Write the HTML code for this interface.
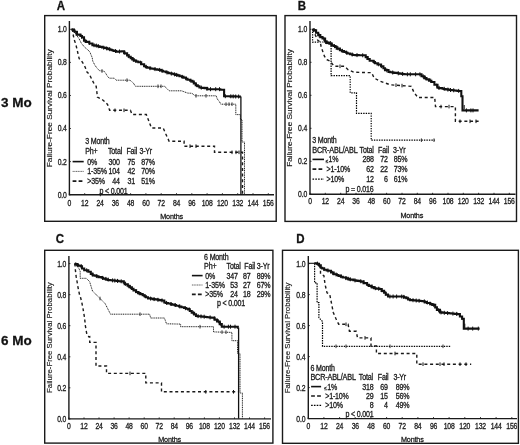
<!DOCTYPE html><html><head><meta charset="utf-8"><style>html,body{margin:0;padding:0;background:#fff;width:520px;height:445px;overflow:hidden}svg{display:block;filter:blur(0.35px)}</style></head><body><svg width="520" height="445" viewBox="0 0 520 445">
<style>
.bd{fill:none;stroke:#1a1a1a;stroke-width:1.4}
.ax{stroke:#1a1a1a;stroke-width:1.4}
.tk{stroke:#1a1a1a;stroke-width:0.9}
.s{fill:none;stroke:#111;stroke-width:2.1;stroke-linejoin:miter}
.d{fill:none;stroke:#1a1a1a;stroke-width:1.4;stroke-dasharray:3 2.7}
.o{fill:none;stroke:#000;stroke-width:1.2;stroke-dasharray:1.4 1.1}
.o2{fill:none;stroke:#222;stroke-width:1;stroke-dasharray:1.1 0.7}
.cm{stroke:#111;stroke-width:1}
.cmt{stroke:#222;stroke-width:0.9}
.base{stroke:#111;stroke-width:1.1}
.drop{stroke:#111;stroke-width:1.3}
text{font-family:"Liberation Sans",sans-serif;stroke:#1a1a1a;stroke-width:0.3px}
.ls{stroke:#111;stroke-width:1.6}.ld{stroke:#1a1a1a;stroke-width:1.7;stroke-dasharray:3.8 2.2}.lo2{stroke:#555;stroke-width:0.9;stroke-dasharray:1.2 0.5}.lo{stroke:#000;stroke-width:1.4;stroke-dasharray:1.6 1.2}.ul{stroke:#1a1a1a;stroke-width:0.6}</style>
<rect x="0" y="0" width="520" height="445" fill="#fff"/>
<text transform="translate(1.00,107.13) scale(1.000,1)" text-anchor="start" font-size="13.5" font-weight="bold" fill="#111">3 Mo</text>
<text transform="translate(1.00,345.33) scale(1.000,1)" text-anchor="start" font-size="13.5" font-weight="bold" fill="#111">6 Mo</text>
<rect class="bd" x="44.7" y="15.6" width="231.5" height="205.70000000000002"/>
<text transform="translate(56.80,10.08) scale(0.900,1)" text-anchor="start" font-size="12.8" font-weight="bold" fill="#111">A</text>
<line class="ax" x1="69.4" y1="21.0" x2="69.4" y2="195.2"/>
<line class="ax" x1="68.9" y1="194.7" x2="274.0" y2="194.7"/>
<line class="tk" x1="69.4" y1="194.7" x2="70.9" y2="194.7"/>
<text transform="translate(66.67,197.64) scale(0.832,1)" text-anchor="end" font-size="8.2" font-weight="normal" fill="#1a1a1a" letter-spacing="-0.2">0.0</text>
<line class="tk" x1="69.4" y1="161.6" x2="70.9" y2="161.6"/>
<text transform="translate(66.67,164.56) scale(0.832,1)" text-anchor="end" font-size="8.2" font-weight="normal" fill="#1a1a1a" letter-spacing="-0.2">0.2</text>
<line class="tk" x1="69.4" y1="128.5" x2="70.9" y2="128.5"/>
<text transform="translate(66.67,131.48) scale(0.832,1)" text-anchor="end" font-size="8.2" font-weight="normal" fill="#1a1a1a" letter-spacing="-0.2">0.4</text>
<line class="tk" x1="69.4" y1="95.5" x2="70.9" y2="95.5"/>
<text transform="translate(66.67,98.40) scale(0.832,1)" text-anchor="end" font-size="8.2" font-weight="normal" fill="#1a1a1a" letter-spacing="-0.2">0.6</text>
<line class="tk" x1="69.4" y1="62.4" x2="70.9" y2="62.4"/>
<text transform="translate(66.67,65.32) scale(0.832,1)" text-anchor="end" font-size="8.2" font-weight="normal" fill="#1a1a1a" letter-spacing="-0.2">0.8</text>
<line class="tk" x1="69.4" y1="29.3" x2="70.9" y2="29.3"/>
<text transform="translate(66.67,32.24) scale(0.832,1)" text-anchor="end" font-size="8.2" font-weight="normal" fill="#1a1a1a" letter-spacing="-0.2">1.0</text>
<line class="tk" x1="69.4" y1="194.7" x2="69.4" y2="193.2"/>
<text transform="translate(69.40,205.54) scale(0.832,1)" text-anchor="middle" font-size="8.2" font-weight="normal" fill="#1a1a1a" letter-spacing="-0.2">0</text>
<line class="tk" x1="84.7" y1="194.7" x2="84.7" y2="193.2"/>
<text transform="translate(84.70,205.54) scale(0.832,1)" text-anchor="middle" font-size="8.2" font-weight="normal" fill="#1a1a1a" letter-spacing="-0.2">12</text>
<line class="tk" x1="100.0" y1="194.7" x2="100.0" y2="193.2"/>
<text transform="translate(100.00,205.54) scale(0.832,1)" text-anchor="middle" font-size="8.2" font-weight="normal" fill="#1a1a1a" letter-spacing="-0.2">24</text>
<line class="tk" x1="115.3" y1="194.7" x2="115.3" y2="193.2"/>
<text transform="translate(115.30,205.54) scale(0.832,1)" text-anchor="middle" font-size="8.2" font-weight="normal" fill="#1a1a1a" letter-spacing="-0.2">36</text>
<line class="tk" x1="130.6" y1="194.7" x2="130.6" y2="193.2"/>
<text transform="translate(130.60,205.54) scale(0.832,1)" text-anchor="middle" font-size="8.2" font-weight="normal" fill="#1a1a1a" letter-spacing="-0.2">48</text>
<line class="tk" x1="145.9" y1="194.7" x2="145.9" y2="193.2"/>
<text transform="translate(145.90,205.54) scale(0.832,1)" text-anchor="middle" font-size="8.2" font-weight="normal" fill="#1a1a1a" letter-spacing="-0.2">60</text>
<line class="tk" x1="161.2" y1="194.7" x2="161.2" y2="193.2"/>
<text transform="translate(161.20,205.54) scale(0.832,1)" text-anchor="middle" font-size="8.2" font-weight="normal" fill="#1a1a1a" letter-spacing="-0.2">72</text>
<line class="tk" x1="176.5" y1="194.7" x2="176.5" y2="193.2"/>
<text transform="translate(176.50,205.54) scale(0.832,1)" text-anchor="middle" font-size="8.2" font-weight="normal" fill="#1a1a1a" letter-spacing="-0.2">84</text>
<line class="tk" x1="191.8" y1="194.7" x2="191.8" y2="193.2"/>
<text transform="translate(191.80,205.54) scale(0.832,1)" text-anchor="middle" font-size="8.2" font-weight="normal" fill="#1a1a1a" letter-spacing="-0.2">96</text>
<line class="tk" x1="207.1" y1="194.7" x2="207.1" y2="193.2"/>
<text transform="translate(207.10,205.54) scale(0.832,1)" text-anchor="middle" font-size="8.2" font-weight="normal" fill="#1a1a1a" letter-spacing="-0.2">108</text>
<line class="tk" x1="222.4" y1="194.7" x2="222.4" y2="193.2"/>
<text transform="translate(222.40,205.54) scale(0.832,1)" text-anchor="middle" font-size="8.2" font-weight="normal" fill="#1a1a1a" letter-spacing="-0.2">120</text>
<line class="tk" x1="237.7" y1="194.7" x2="237.7" y2="193.2"/>
<text transform="translate(237.70,205.54) scale(0.832,1)" text-anchor="middle" font-size="8.2" font-weight="normal" fill="#1a1a1a" letter-spacing="-0.2">132</text>
<line class="tk" x1="253.0" y1="194.7" x2="253.0" y2="193.2"/>
<text transform="translate(253.00,205.54) scale(0.832,1)" text-anchor="middle" font-size="8.2" font-weight="normal" fill="#1a1a1a" letter-spacing="-0.2">144</text>
<line class="tk" x1="268.3" y1="194.7" x2="268.3" y2="193.2"/>
<text transform="translate(268.30,205.54) scale(0.832,1)" text-anchor="middle" font-size="8.2" font-weight="normal" fill="#1a1a1a" letter-spacing="-0.2">156</text>
<text transform="translate(171.60,218.60) scale(0.894,1)" text-anchor="middle" font-size="8.1" font-weight="normal" fill="#1a1a1a" letter-spacing="-0.2">Months</text>
<text transform="translate(49.50,108.30) rotate(-90) scale(1,0.88) translate(0,2.99)" text-anchor="middle" font-size="8.3" fill="#1a1a1a" style="stroke-width:0.18px">Failure-Free Survival Probability</text>
<rect class="bd" x="285.0" y="15.6" width="231.5" height="205.8"/>
<text transform="translate(297.80,9.88) scale(0.900,1)" text-anchor="start" font-size="12.8" font-weight="bold" fill="#111">B</text>
<line class="ax" x1="310.0" y1="21.0" x2="310.0" y2="194.8"/>
<line class="ax" x1="309.5" y1="194.3" x2="515.5" y2="194.3"/>
<line class="tk" x1="310.0" y1="194.3" x2="311.5" y2="194.3"/>
<text transform="translate(307.07,197.24) scale(0.832,1)" text-anchor="end" font-size="8.2" font-weight="normal" fill="#1a1a1a" letter-spacing="-0.2">0.0</text>
<line class="tk" x1="310.0" y1="161.3" x2="311.5" y2="161.3"/>
<text transform="translate(307.07,164.24) scale(0.832,1)" text-anchor="end" font-size="8.2" font-weight="normal" fill="#1a1a1a" letter-spacing="-0.2">0.2</text>
<line class="tk" x1="310.0" y1="128.3" x2="311.5" y2="128.3"/>
<text transform="translate(307.07,131.24) scale(0.832,1)" text-anchor="end" font-size="8.2" font-weight="normal" fill="#1a1a1a" letter-spacing="-0.2">0.4</text>
<line class="tk" x1="310.0" y1="95.3" x2="311.5" y2="95.3"/>
<text transform="translate(307.07,98.24) scale(0.832,1)" text-anchor="end" font-size="8.2" font-weight="normal" fill="#1a1a1a" letter-spacing="-0.2">0.6</text>
<line class="tk" x1="310.0" y1="62.3" x2="311.5" y2="62.3"/>
<text transform="translate(307.07,65.24) scale(0.832,1)" text-anchor="end" font-size="8.2" font-weight="normal" fill="#1a1a1a" letter-spacing="-0.2">0.8</text>
<line class="tk" x1="310.0" y1="29.3" x2="311.5" y2="29.3"/>
<text transform="translate(307.07,32.24) scale(0.832,1)" text-anchor="end" font-size="8.2" font-weight="normal" fill="#1a1a1a" letter-spacing="-0.2">1.0</text>
<line class="tk" x1="310.0" y1="194.3" x2="310.0" y2="192.8"/>
<text transform="translate(310.00,204.44) scale(0.832,1)" text-anchor="middle" font-size="8.2" font-weight="normal" fill="#1a1a1a" letter-spacing="-0.2">0</text>
<line class="tk" x1="325.3" y1="194.3" x2="325.3" y2="192.8"/>
<text transform="translate(325.33,204.44) scale(0.832,1)" text-anchor="middle" font-size="8.2" font-weight="normal" fill="#1a1a1a" letter-spacing="-0.2">12</text>
<line class="tk" x1="340.7" y1="194.3" x2="340.7" y2="192.8"/>
<text transform="translate(340.66,204.44) scale(0.832,1)" text-anchor="middle" font-size="8.2" font-weight="normal" fill="#1a1a1a" letter-spacing="-0.2">24</text>
<line class="tk" x1="356.0" y1="194.3" x2="356.0" y2="192.8"/>
<text transform="translate(355.99,204.44) scale(0.832,1)" text-anchor="middle" font-size="8.2" font-weight="normal" fill="#1a1a1a" letter-spacing="-0.2">36</text>
<line class="tk" x1="371.3" y1="194.3" x2="371.3" y2="192.8"/>
<text transform="translate(371.32,204.44) scale(0.832,1)" text-anchor="middle" font-size="8.2" font-weight="normal" fill="#1a1a1a" letter-spacing="-0.2">48</text>
<line class="tk" x1="386.6" y1="194.3" x2="386.6" y2="192.8"/>
<text transform="translate(386.65,204.44) scale(0.832,1)" text-anchor="middle" font-size="8.2" font-weight="normal" fill="#1a1a1a" letter-spacing="-0.2">60</text>
<line class="tk" x1="402.0" y1="194.3" x2="402.0" y2="192.8"/>
<text transform="translate(401.98,204.44) scale(0.832,1)" text-anchor="middle" font-size="8.2" font-weight="normal" fill="#1a1a1a" letter-spacing="-0.2">72</text>
<line class="tk" x1="417.3" y1="194.3" x2="417.3" y2="192.8"/>
<text transform="translate(417.31,204.44) scale(0.832,1)" text-anchor="middle" font-size="8.2" font-weight="normal" fill="#1a1a1a" letter-spacing="-0.2">84</text>
<line class="tk" x1="432.6" y1="194.3" x2="432.6" y2="192.8"/>
<text transform="translate(432.64,204.44) scale(0.832,1)" text-anchor="middle" font-size="8.2" font-weight="normal" fill="#1a1a1a" letter-spacing="-0.2">96</text>
<line class="tk" x1="448.0" y1="194.3" x2="448.0" y2="192.8"/>
<text transform="translate(447.97,204.44) scale(0.832,1)" text-anchor="middle" font-size="8.2" font-weight="normal" fill="#1a1a1a" letter-spacing="-0.2">108</text>
<line class="tk" x1="463.3" y1="194.3" x2="463.3" y2="192.8"/>
<text transform="translate(463.30,204.44) scale(0.832,1)" text-anchor="middle" font-size="8.2" font-weight="normal" fill="#1a1a1a" letter-spacing="-0.2">120</text>
<line class="tk" x1="478.6" y1="194.3" x2="478.6" y2="192.8"/>
<text transform="translate(478.63,204.44) scale(0.832,1)" text-anchor="middle" font-size="8.2" font-weight="normal" fill="#1a1a1a" letter-spacing="-0.2">132</text>
<line class="tk" x1="494.0" y1="194.3" x2="494.0" y2="192.8"/>
<text transform="translate(493.96,204.44) scale(0.832,1)" text-anchor="middle" font-size="8.2" font-weight="normal" fill="#1a1a1a" letter-spacing="-0.2">144</text>
<line class="tk" x1="509.3" y1="194.3" x2="509.3" y2="192.8"/>
<text transform="translate(509.29,204.44) scale(0.832,1)" text-anchor="middle" font-size="8.2" font-weight="normal" fill="#1a1a1a" letter-spacing="-0.2">156</text>
<text transform="translate(411.80,218.10) scale(0.894,1)" text-anchor="middle" font-size="8.1" font-weight="normal" fill="#1a1a1a" letter-spacing="-0.2">Months</text>
<text transform="translate(289.50,107.90) rotate(-90) scale(1,0.88) translate(0,2.99)" text-anchor="middle" font-size="8.3" fill="#1a1a1a" style="stroke-width:0.18px">Failure-Free Survival Probability</text>
<rect class="bd" x="44.7" y="250.3" width="228.2" height="192.8"/>
<text transform="translate(55.80,243.38) scale(0.900,1)" text-anchor="start" font-size="12.8" font-weight="bold" fill="#111">C</text>
<line class="ax" x1="68.9" y1="256.0" x2="68.9" y2="419.4"/>
<line class="ax" x1="68.4" y1="418.9" x2="271.0" y2="418.9"/>
<line class="tk" x1="68.9" y1="418.9" x2="70.4" y2="418.9"/>
<text transform="translate(66.17,421.84) scale(0.832,1)" text-anchor="end" font-size="8.2" font-weight="normal" fill="#1a1a1a" letter-spacing="-0.2">0.0</text>
<line class="tk" x1="68.9" y1="387.8" x2="70.4" y2="387.8"/>
<text transform="translate(66.17,390.78) scale(0.832,1)" text-anchor="end" font-size="8.2" font-weight="normal" fill="#1a1a1a" letter-spacing="-0.2">0.2</text>
<line class="tk" x1="68.9" y1="356.8" x2="70.4" y2="356.8"/>
<text transform="translate(66.17,359.72) scale(0.832,1)" text-anchor="end" font-size="8.2" font-weight="normal" fill="#1a1a1a" letter-spacing="-0.2">0.4</text>
<line class="tk" x1="68.9" y1="325.7" x2="70.4" y2="325.7"/>
<text transform="translate(66.17,328.66) scale(0.832,1)" text-anchor="end" font-size="8.2" font-weight="normal" fill="#1a1a1a" letter-spacing="-0.2">0.6</text>
<line class="tk" x1="68.9" y1="294.7" x2="70.4" y2="294.7"/>
<text transform="translate(66.17,297.60) scale(0.832,1)" text-anchor="end" font-size="8.2" font-weight="normal" fill="#1a1a1a" letter-spacing="-0.2">0.8</text>
<line class="tk" x1="68.9" y1="263.6" x2="70.4" y2="263.6"/>
<text transform="translate(66.17,266.54) scale(0.832,1)" text-anchor="end" font-size="8.2" font-weight="normal" fill="#1a1a1a" letter-spacing="-0.2">1.0</text>
<line class="tk" x1="68.9" y1="418.9" x2="68.9" y2="417.4"/>
<text transform="translate(68.90,428.84) scale(0.832,1)" text-anchor="middle" font-size="8.2" font-weight="normal" fill="#1a1a1a" letter-spacing="-0.2">0</text>
<line class="tk" x1="84.0" y1="418.9" x2="84.0" y2="417.4"/>
<text transform="translate(83.95,428.84) scale(0.832,1)" text-anchor="middle" font-size="8.2" font-weight="normal" fill="#1a1a1a" letter-spacing="-0.2">12</text>
<line class="tk" x1="99.0" y1="418.9" x2="99.0" y2="417.4"/>
<text transform="translate(99.00,428.84) scale(0.832,1)" text-anchor="middle" font-size="8.2" font-weight="normal" fill="#1a1a1a" letter-spacing="-0.2">24</text>
<line class="tk" x1="114.1" y1="418.9" x2="114.1" y2="417.4"/>
<text transform="translate(114.05,428.84) scale(0.832,1)" text-anchor="middle" font-size="8.2" font-weight="normal" fill="#1a1a1a" letter-spacing="-0.2">36</text>
<line class="tk" x1="129.1" y1="418.9" x2="129.1" y2="417.4"/>
<text transform="translate(129.10,428.84) scale(0.832,1)" text-anchor="middle" font-size="8.2" font-weight="normal" fill="#1a1a1a" letter-spacing="-0.2">48</text>
<line class="tk" x1="144.2" y1="418.9" x2="144.2" y2="417.4"/>
<text transform="translate(144.15,428.84) scale(0.832,1)" text-anchor="middle" font-size="8.2" font-weight="normal" fill="#1a1a1a" letter-spacing="-0.2">60</text>
<line class="tk" x1="159.2" y1="418.9" x2="159.2" y2="417.4"/>
<text transform="translate(159.20,428.84) scale(0.832,1)" text-anchor="middle" font-size="8.2" font-weight="normal" fill="#1a1a1a" letter-spacing="-0.2">72</text>
<line class="tk" x1="174.2" y1="418.9" x2="174.2" y2="417.4"/>
<text transform="translate(174.25,428.84) scale(0.832,1)" text-anchor="middle" font-size="8.2" font-weight="normal" fill="#1a1a1a" letter-spacing="-0.2">84</text>
<line class="tk" x1="189.3" y1="418.9" x2="189.3" y2="417.4"/>
<text transform="translate(189.30,428.84) scale(0.832,1)" text-anchor="middle" font-size="8.2" font-weight="normal" fill="#1a1a1a" letter-spacing="-0.2">96</text>
<line class="tk" x1="204.4" y1="418.9" x2="204.4" y2="417.4"/>
<text transform="translate(204.35,428.84) scale(0.832,1)" text-anchor="middle" font-size="8.2" font-weight="normal" fill="#1a1a1a" letter-spacing="-0.2">108</text>
<line class="tk" x1="219.4" y1="418.9" x2="219.4" y2="417.4"/>
<text transform="translate(219.40,428.84) scale(0.832,1)" text-anchor="middle" font-size="8.2" font-weight="normal" fill="#1a1a1a" letter-spacing="-0.2">120</text>
<line class="tk" x1="234.5" y1="418.9" x2="234.5" y2="417.4"/>
<text transform="translate(234.45,428.84) scale(0.832,1)" text-anchor="middle" font-size="8.2" font-weight="normal" fill="#1a1a1a" letter-spacing="-0.2">132</text>
<line class="tk" x1="249.5" y1="418.9" x2="249.5" y2="417.4"/>
<text transform="translate(249.50,428.84) scale(0.832,1)" text-anchor="middle" font-size="8.2" font-weight="normal" fill="#1a1a1a" letter-spacing="-0.2">144</text>
<line class="tk" x1="264.6" y1="418.9" x2="264.6" y2="417.4"/>
<text transform="translate(264.55,428.84) scale(0.832,1)" text-anchor="middle" font-size="8.2" font-weight="normal" fill="#1a1a1a" letter-spacing="-0.2">156</text>
<text transform="translate(169.60,441.80) scale(0.894,1)" text-anchor="middle" font-size="8.1" font-weight="normal" fill="#1a1a1a" letter-spacing="-0.2">Months</text>
<text transform="translate(49.60,337.60) rotate(-90) scale(1,0.88) translate(0,2.81)" text-anchor="middle" font-size="7.8" fill="#1a1a1a" style="stroke-width:0.18px">Failure-Free Survival Probability</text>
<rect class="bd" x="282.5" y="250.3" width="235.89999999999998" height="193.0"/>
<text transform="translate(296.30,243.08) scale(0.900,1)" text-anchor="start" font-size="12.8" font-weight="bold" fill="#111">D</text>
<line class="ax" x1="308.3" y1="256.0" x2="308.3" y2="419.1"/>
<line class="ax" x1="307.8" y1="418.6" x2="517.0" y2="418.6"/>
<line class="tk" x1="308.3" y1="418.6" x2="309.8" y2="418.6"/>
<text transform="translate(305.27,421.54) scale(0.832,1)" text-anchor="end" font-size="8.2" font-weight="normal" fill="#1a1a1a" letter-spacing="-0.2">0.0</text>
<line class="tk" x1="308.3" y1="387.6" x2="309.8" y2="387.6"/>
<text transform="translate(305.27,390.54) scale(0.832,1)" text-anchor="end" font-size="8.2" font-weight="normal" fill="#1a1a1a" letter-spacing="-0.2">0.2</text>
<line class="tk" x1="308.3" y1="356.6" x2="309.8" y2="356.6"/>
<text transform="translate(305.27,359.54) scale(0.832,1)" text-anchor="end" font-size="8.2" font-weight="normal" fill="#1a1a1a" letter-spacing="-0.2">0.4</text>
<line class="tk" x1="308.3" y1="325.6" x2="309.8" y2="325.6"/>
<text transform="translate(305.27,328.54) scale(0.832,1)" text-anchor="end" font-size="8.2" font-weight="normal" fill="#1a1a1a" letter-spacing="-0.2">0.6</text>
<line class="tk" x1="308.3" y1="294.6" x2="309.8" y2="294.6"/>
<text transform="translate(305.27,297.54) scale(0.832,1)" text-anchor="end" font-size="8.2" font-weight="normal" fill="#1a1a1a" letter-spacing="-0.2">0.8</text>
<line class="tk" x1="308.3" y1="263.6" x2="309.8" y2="263.6"/>
<text transform="translate(305.27,266.54) scale(0.832,1)" text-anchor="end" font-size="8.2" font-weight="normal" fill="#1a1a1a" letter-spacing="-0.2">1.0</text>
<line class="tk" x1="308.3" y1="418.6" x2="308.3" y2="417.1"/>
<text transform="translate(308.30,429.14) scale(0.832,1)" text-anchor="middle" font-size="8.2" font-weight="normal" fill="#1a1a1a" letter-spacing="-0.2">0</text>
<line class="tk" x1="323.9" y1="418.6" x2="323.9" y2="417.1"/>
<text transform="translate(323.95,429.14) scale(0.832,1)" text-anchor="middle" font-size="8.2" font-weight="normal" fill="#1a1a1a" letter-spacing="-0.2">12</text>
<line class="tk" x1="339.6" y1="418.6" x2="339.6" y2="417.1"/>
<text transform="translate(339.60,429.14) scale(0.832,1)" text-anchor="middle" font-size="8.2" font-weight="normal" fill="#1a1a1a" letter-spacing="-0.2">24</text>
<line class="tk" x1="355.2" y1="418.6" x2="355.2" y2="417.1"/>
<text transform="translate(355.25,429.14) scale(0.832,1)" text-anchor="middle" font-size="8.2" font-weight="normal" fill="#1a1a1a" letter-spacing="-0.2">36</text>
<line class="tk" x1="370.9" y1="418.6" x2="370.9" y2="417.1"/>
<text transform="translate(370.90,429.14) scale(0.832,1)" text-anchor="middle" font-size="8.2" font-weight="normal" fill="#1a1a1a" letter-spacing="-0.2">48</text>
<line class="tk" x1="386.6" y1="418.6" x2="386.6" y2="417.1"/>
<text transform="translate(386.55,429.14) scale(0.832,1)" text-anchor="middle" font-size="8.2" font-weight="normal" fill="#1a1a1a" letter-spacing="-0.2">60</text>
<line class="tk" x1="402.2" y1="418.6" x2="402.2" y2="417.1"/>
<text transform="translate(402.20,429.14) scale(0.832,1)" text-anchor="middle" font-size="8.2" font-weight="normal" fill="#1a1a1a" letter-spacing="-0.2">72</text>
<line class="tk" x1="417.9" y1="418.6" x2="417.9" y2="417.1"/>
<text transform="translate(417.85,429.14) scale(0.832,1)" text-anchor="middle" font-size="8.2" font-weight="normal" fill="#1a1a1a" letter-spacing="-0.2">84</text>
<line class="tk" x1="433.5" y1="418.6" x2="433.5" y2="417.1"/>
<text transform="translate(433.50,429.14) scale(0.832,1)" text-anchor="middle" font-size="8.2" font-weight="normal" fill="#1a1a1a" letter-spacing="-0.2">96</text>
<line class="tk" x1="449.1" y1="418.6" x2="449.1" y2="417.1"/>
<text transform="translate(449.15,429.14) scale(0.832,1)" text-anchor="middle" font-size="8.2" font-weight="normal" fill="#1a1a1a" letter-spacing="-0.2">108</text>
<line class="tk" x1="464.8" y1="418.6" x2="464.8" y2="417.1"/>
<text transform="translate(464.80,429.14) scale(0.832,1)" text-anchor="middle" font-size="8.2" font-weight="normal" fill="#1a1a1a" letter-spacing="-0.2">120</text>
<line class="tk" x1="480.5" y1="418.6" x2="480.5" y2="417.1"/>
<text transform="translate(480.45,429.14) scale(0.832,1)" text-anchor="middle" font-size="8.2" font-weight="normal" fill="#1a1a1a" letter-spacing="-0.2">132</text>
<line class="tk" x1="496.1" y1="418.6" x2="496.1" y2="417.1"/>
<text transform="translate(496.10,429.14) scale(0.832,1)" text-anchor="middle" font-size="8.2" font-weight="normal" fill="#1a1a1a" letter-spacing="-0.2">144</text>
<line class="tk" x1="511.8" y1="418.6" x2="511.8" y2="417.1"/>
<text transform="translate(511.75,429.14) scale(0.832,1)" text-anchor="middle" font-size="8.2" font-weight="normal" fill="#1a1a1a" letter-spacing="-0.2">156</text>
<text transform="translate(412.30,441.60) scale(0.894,1)" text-anchor="middle" font-size="8.1" font-weight="normal" fill="#1a1a1a" letter-spacing="-0.2">Months</text>
<text transform="translate(287.60,338.00) rotate(-90) scale(1,0.88) translate(0,2.81)" text-anchor="middle" font-size="7.8" fill="#1a1a1a" style="stroke-width:0.18px">Failure-Free Survival Probability</text>
<polyline class="o2" points="71.5,29.4 72.5,29.5 74.2,31.7 77.0,35.7 79.2,39.0 81.5,43.5 84.9,47.5 87.7,49.7 89.9,52.0 91.0,54.8 92.2,57.6 92.7,61.0 95.0,65.4 97.2,68.3 99.5,70.7 104.1,71.2 105.8,73.5 107.5,76.3 109.2,78.2 114.2,78.2 116.3,80.2 130.0,80.2 133.3,83.0 135.5,86.3 164.6,86.3 169.2,90.8 181.5,90.8 187.7,93.1 192.0,93.3 195.0,95.8 216.2,95.8 217.3,99.0 219.6,101.9 220.8,104.2 235.8,104.2 235.8,114.6 240.4,114.6 240.4,119.6 242.0,119.6 242.0,142.0 244.5,142.0 244.5,194.7"/>
<polyline class="d" points="71.5,29.4 72.5,30.0 73.0,34.0 74.2,39.6 75.9,44.7 77.0,49.2 78.1,54.2 79.2,58.7 81.5,61.0 83.7,64.3 85.4,67.7 86.3,71.2 89.5,74.6 91.7,79.1 94.0,83.6 96.2,86.4 96.8,91.5 97.4,97.1 101.9,99.3 105.2,102.1 107.5,104.4 108.6,107.2 109.6,110.3 130.4,110.3 132.0,114.5 146.3,114.5 148.9,121.2 151.4,128.0 163.2,128.0 165.7,133.8 169.1,141.2 184.1,141.2 184.1,146.2 214.5,146.2 214.5,152.3 242.5,152.3 242.5,194.7"/>
<polyline class="s" points="71.5,29.4 72.3,29.4 72.3,29.5 72.5,29.5 73.8,29.5 73.8,30.6 74.6,30.6 74.6,31.7 75.9,31.7 76.7,31.7 76.7,34.6 79.2,34.6 80.4,34.6 80.4,36.0 82.0,36.0 82.0,37.4 82.6,37.4 84.0,37.4 84.0,40.7 84.9,40.7 86.0,40.7 86.0,41.9 87.7,41.9 89.3,41.9 89.3,43.5 90.5,43.5 92.4,43.5 92.4,45.2 93.8,45.2 94.7,45.2 94.7,45.5 96.0,45.5 96.0,45.8 97.2,45.8 98.0,45.8 98.0,46.3 99.6,46.3 99.6,46.9 100.6,46.9 102.0,46.9 102.0,47.5 104.6,47.5 104.6,48.0 105.1,48.0 106.8,48.0 106.8,48.6 108.5,48.6 108.5,49.2 109.6,49.2 110.4,49.2 110.4,49.8 111.8,49.8 111.8,50.3 112.9,50.3 113.5,50.3 113.5,51.0 116.0,51.0 116.0,51.6 118.0,51.6 119.2,51.6 119.2,51.5 121.5,51.5 121.5,51.3 123.1,51.3 124.1,51.3 124.1,53.3 127.1,53.3 127.1,55.4 127.7,55.4 128.7,55.4 128.7,56.8 130.7,56.8 130.7,58.1 132.2,58.1 132.2,59.4 133.9,59.4 133.9,60.8 135.4,60.8 136.3,60.8 136.3,61.5 138.3,61.5 138.3,62.3 140.0,62.3 141.2,62.3 141.2,64.2 144.1,64.2 144.1,66.2 144.6,66.2 145.8,66.2 145.8,67.0 147.3,67.0 147.3,67.7 150.3,67.7 150.3,68.5 150.8,68.5 152.4,68.5 152.4,68.8 154.6,68.8 154.6,69.2 155.4,69.2 157.1,69.2 157.1,69.6 159.2,69.6 159.2,70.0 160.0,70.0 161.4,70.0 161.4,70.8 162.9,70.8 162.9,71.5 165.8,71.5 165.8,72.3 166.2,72.3 167.8,72.3 167.8,72.8 168.8,72.8 168.8,73.3 171.6,73.3 171.6,73.8 172.3,73.8 173.6,73.8 173.6,74.3 175.4,74.3 175.4,74.9 177.5,74.9 177.5,75.4 178.5,75.4 179.5,75.4 179.5,76.2 182.1,76.2 182.1,76.9 183.6,76.9 183.6,77.7 184.6,77.7 186.0,77.7 186.0,78.7 187.5,78.7 187.5,79.8 190.2,79.8 190.2,80.8 190.8,80.8 192.4,80.8 192.4,81.6 193.0,81.6 193.8,81.6 193.8,83.4 195.7,83.4 195.7,85.2 196.5,85.2 197.8,85.2 197.8,86.3 199.4,86.3 199.4,87.5 200.0,87.5 201.0,87.5 201.0,87.7 202.6,87.7 202.6,87.9 204.6,87.9 204.6,88.1 205.8,88.1 207.2,88.1 207.2,89.2 208.1,89.2 219.6,89.2 220.3,89.2 220.3,89.8 221.9,89.8 224.1,89.8 224.1,96.2 224.8,96.2 225.6,96.2 225.6,96.3 228.8,96.3 228.8,96.3 230.3,96.3 230.3,96.4 233.5,96.4 233.5,96.4 235.4,96.4 235.4,96.5 237.5,96.5 237.5,96.5 239.8,96.5 239.8,96.6 240.9,96.6"/>
<line class="drop" x1="240.9" y1="96.6" x2="240.9" y2="194.7"/>
<polyline class="o" points="312.6,29.2 312.6,42.1 331.1,41.9 331.1,75.6 350.2,75.6 350.2,92.8 356.5,92.8 356.5,113.4 371.2,113.4 371.2,140.2 434.8,140.2"/>
<polyline class="d" points="312.5,29.2 314.0,32.0 316.8,38.5 317.8,40.2 320.2,41.9 321.2,47.0 324.4,56.2 326.9,59.6 330.3,61.2 332.8,64.6 334.5,66.3 344.6,66.3 348.0,69.7 353.9,72.2 371.7,72.7 374.2,78.1 380.4,81.3 390.3,84.8 411.3,86.3 414.0,92.4 417.9,97.5 434.7,97.5 435.5,106.6 455.4,106.6 455.4,121.3 478.6,121.3"/>
<polyline class="s" points="312.5,29.2 313.8,29.2 313.8,30.4 314.8,30.4 316.1,30.4 316.1,32.8 316.8,32.8 318.2,32.8 318.2,35.1 318.8,35.1 320.3,35.1 320.3,37.1 320.8,37.1 322.5,37.1 322.5,38.5 323.5,38.5 325.1,38.5 325.1,41.5 325.6,41.5 326.2,41.5 326.2,42.9 328.3,42.9 329.3,42.9 329.3,43.6 330.3,43.6 331.8,43.6 331.8,45.2 332.3,45.2 333.4,45.2 333.4,46.0 335.5,46.0 335.5,46.9 336.0,46.9 336.7,46.9 336.7,48.6 339.9,48.6 339.9,50.3 341.2,50.3 341.9,50.3 341.9,51.1 344.2,51.1 344.2,52.0 346.2,52.0 346.2,52.8 347.1,52.8 347.6,52.8 347.6,53.5 350.1,53.5 350.1,54.3 352.5,54.3 352.5,55.0 353.9,55.0 355.5,55.0 355.5,55.1 357.4,55.1 357.4,55.1 358.7,55.1 358.7,55.2 361.6,55.2 361.6,55.2 362.8,55.2 362.8,55.3 364.3,55.3 365.7,55.3 365.7,57.1 367.4,57.1 367.4,59.0 369.7,59.0 369.7,60.8 371.7,60.8 373.5,60.8 373.5,62.0 375.0,62.0 375.0,63.3 377.5,63.3 377.5,64.5 379.2,64.5 381.1,64.5 381.1,66.3 383.4,66.3 383.4,68.2 385.0,68.2 385.0,70.1 388.5,70.1 388.5,71.9 389.0,71.9 390.2,71.9 390.2,72.2 392.7,72.2 392.7,72.6 394.3,72.6 394.3,72.9 397.6,72.9 397.6,73.3 399.5,73.3 399.5,73.6 402.2,73.6 402.2,74.0 404.4,74.0 404.4,74.3 405.0,74.3 420.5,74.3 421.5,74.3 421.5,76.2 424.2,76.2 424.2,78.1 425.7,78.1 426.5,78.1 426.5,79.4 429.0,79.4 429.0,80.7 431.4,80.7 431.4,82.0 433.4,82.0 434.4,82.0 434.4,84.8 437.5,84.8 437.5,87.7 438.6,87.7 439.0,87.7 439.0,88.1 441.9,88.1 441.9,88.5 443.5,88.5 443.5,89.0 445.6,89.0 445.6,89.4 448.3,89.4 448.3,89.8 448.9,89.8 449.9,89.8 449.9,90.0 451.8,90.0 451.8,90.3 454.1,90.3 454.1,90.5 456.4,90.5 456.4,90.8 457.7,90.8 457.7,91.0 459.3,91.0 461.3,91.0 461.3,96.2 461.8,96.2 462.5,96.2 462.5,110.4 465.0,110.4 478.6,110.4"/>
<polyline class="o2" points="74.9,263.5 79.1,268.8 80.2,271.5 80.2,278.3 86.2,278.3 87.6,279.6 89.6,281.6 92.5,291.0 98.8,297.3 105.2,303.7 110.5,314.2 149.6,314.2 150.7,318.0 164.4,318.0 166.5,323.8 180.6,324.1 180.6,326.7 213.5,326.7 213.5,331.9 231.9,332.4 231.9,340.7 237.5,340.7 237.5,353.7 240.0,353.7 240.0,393.0 242.4,393.0 242.4,418.6"/>
<polyline class="d" points="74.9,263.5 75.4,270.2 76.1,276.2 77.3,283.0 78.0,287.3 79.5,294.6 80.2,296.1 81.7,301.9 83.1,309.2 84.6,318.0 85.3,325.3 86.8,334.0 89.0,337.0 89.7,336.8 89.7,342.4 96.0,342.4 96.0,366.0 106.5,366.0 106.5,373.4 145.8,373.4 145.8,382.9 161.5,382.9 161.5,391.8 238.6,391.8"/>
<polyline class="s" points="74.9,263.5 75.3,263.5 75.3,264.1 76.1,264.1 77.4,264.1 77.4,265.1 77.8,265.1 78.3,265.1 78.3,265.8 79.5,265.8 80.7,265.8 80.7,266.3 81.5,266.3 82.0,266.3 82.0,268.5 83.5,268.5 84.2,268.5 84.2,270.2 85.6,270.2 87.2,270.2 87.2,270.4 87.6,270.4 88.3,270.4 88.3,271.8 89.6,271.8 90.8,271.8 90.8,273.9 91.6,273.9 92.6,273.9 92.6,275.2 93.6,275.2 94.6,275.2 94.6,275.8 96.7,275.8 96.7,276.4 97.8,276.4 98.5,276.4 98.5,277.1 101.7,277.1 101.7,277.8 103.0,277.8 103.0,278.6 105.5,278.6 105.5,279.3 107.6,279.3 107.6,280.0 109.4,280.0 110.2,280.0 110.2,280.2 112.5,280.2 112.5,280.5 115.2,280.5 115.2,280.7 116.7,280.7 116.7,280.9 118.4,280.9 118.4,281.2 120.7,281.2 120.7,281.4 122.1,281.4 123.8,281.4 123.8,282.8 124.7,282.8 124.7,284.3 127.6,284.3 127.6,285.7 128.5,285.7 129.4,285.7 129.4,287.3 131.9,287.3 131.9,288.9 133.5,288.9 133.5,290.4 136.1,290.4 136.1,292.0 136.9,292.0 138.0,292.0 138.0,293.1 140.3,293.1 140.3,294.1 142.7,294.1 142.7,295.2 144.4,295.2 144.4,296.3 146.0,296.3 146.0,297.3 148.0,297.3 148.0,298.4 149.6,298.4 151.2,298.4 151.2,298.8 152.8,298.8 152.8,299.1 154.5,299.1 154.5,299.4 157.6,299.4 157.6,299.8 159.2,299.8 159.2,300.1 161.5,300.1 161.5,300.5 162.3,300.5 164.3,300.5 164.3,302.5 165.0,302.5 165.8,302.5 165.8,303.0 167.9,303.0 167.9,303.5 170.7,303.5 170.7,304.1 171.8,304.1 171.8,304.6 174.7,304.6 174.7,305.1 175.4,305.1 176.0,305.1 176.0,305.8 179.1,305.8 179.1,306.5 181.4,306.5 181.4,307.2 184.1,307.2 184.1,308.0 186.2,308.0 186.2,308.7 188.1,308.7 188.1,309.4 189.2,309.4 189.8,309.4 189.8,311.0 191.7,311.0 191.7,312.7 194.1,312.7 194.1,314.4 196.0,314.4 196.0,316.0 197.0,316.0 197.6,316.0 197.6,316.2 201.1,316.2 201.1,316.5 202.9,316.5 202.9,316.7 205.5,316.7 205.5,317.0 207.2,317.0 207.2,317.2 209.6,317.2 209.6,317.5 211.6,317.5 211.6,317.7 213.5,317.7 214.6,317.7 214.6,319.6 217.0,319.6 217.0,321.5 218.7,321.5 219.7,321.5 219.7,324.1 221.8,324.1 221.8,326.7 223.0,326.7 236.0,326.7 237.8,326.7 237.8,327.6 238.6,327.6"/>
<line class="drop" x1="238.6" y1="327.6" x2="238.6" y2="418.6"/>
<polyline class="o" points="314.6,263.3 314.6,282.9 317.1,282.9 317.1,302.6 318.9,302.6 318.9,317.7 322.5,321.5 322.5,346.3 450.3,346.3"/>
<polyline class="d" points="314.4,263.3 318.5,264.2 320.5,267.0 320.5,274.0 323.9,275.6 324.6,281.0 325.2,285.0 327.0,292.8 329.7,294.2 333.3,312.5 336.0,318.8 338.7,324.3 348.1,324.3 349.4,331.2 356.2,331.2 357.5,337.9 371.0,337.9 371.0,346.0 376.4,346.0 376.4,353.5 416.8,353.5 416.8,364.2 471.2,364.2"/>
<polyline class="s" points="314.4,263.3 315.8,263.3 317.1,263.3 317.1,263.8 318.5,263.8 319.0,263.8 319.0,265.4 319.5,265.4 320.8,265.4 320.8,267.8 321.2,267.8 322.2,267.8 322.2,268.5 323.2,268.5 324.2,268.5 324.2,269.8 325.2,269.8 326.7,269.8 326.7,270.5 327.9,270.5 328.5,270.5 328.5,270.8 329.9,270.8 331.0,270.8 331.0,272.5 332.0,272.5 333.7,272.5 333.7,274.2 335.0,274.2 336.9,274.2 336.9,275.0 337.8,275.0 338.4,275.0 338.4,275.9 340.9,275.9 340.9,276.7 342.8,276.7 342.8,277.5 346.0,277.5 346.0,278.4 346.7,278.4 348.2,278.4 348.2,279.0 349.6,279.0 349.6,279.6 353.4,279.6 353.4,280.2 353.9,280.2 355.7,280.2 355.7,280.6 357.5,280.6 357.5,280.9 359.7,280.9 359.7,281.2 361.3,281.2 361.3,281.6 362.9,281.6 363.5,281.6 363.5,283.1 367.0,283.1 367.0,284.7 368.3,284.7 368.9,284.7 368.9,285.9 371.5,285.9 371.5,287.1 373.9,287.1 373.9,288.3 375.5,288.3 376.1,288.3 376.1,288.6 379.3,288.6 379.3,289.0 380.6,289.0 381.6,289.0 381.6,290.9 384.1,290.9 384.1,292.8 385.8,292.8 385.8,294.6 388.0,294.6 388.0,296.5 388.9,296.5 402.9,296.5 403.9,296.5 403.9,297.4 406.3,297.4 406.3,298.3 408.1,298.3 408.1,299.2 410.0,299.2 410.0,300.1 411.3,300.1 413.0,300.1 413.0,300.3 415.0,300.3 415.0,300.5 416.9,300.5 416.9,300.6 418.9,300.6 418.9,300.8 420.4,300.8 420.4,301.0 422.4,301.0 422.4,301.2 423.8,301.2 424.7,301.2 424.7,302.1 426.8,302.1 426.8,303.0 430.3,303.0 430.3,304.0 432.2,304.0 432.2,304.9 433.6,304.9 435.2,304.9 435.2,307.4 436.9,307.4 436.9,309.9 440.0,309.9 440.0,312.4 440.5,312.4 442.1,312.4 442.1,312.6 443.2,312.6 443.2,312.8 445.8,312.8 445.8,313.0 449.0,313.0 449.0,313.2 450.7,313.2 450.7,313.5 453.7,313.5 453.7,313.7 455.1,313.7 455.1,313.9 457.0,313.9 457.0,314.1 458.7,314.1 459.9,314.1 459.9,316.5 462.1,316.5 462.1,318.8 462.8,318.8 463.8,318.8 463.8,328.6 465.6,328.6 479.6,328.6"/>
<line class="base" x1="308.3" y1="263.3" x2="314.6" y2="263.3"/>
<line class="cm" x1="74.5" y1="28.8" x2="74.5" y2="32.8"/>
<line class="cm" x1="77.5" y1="31.1" x2="77.5" y2="35.1"/>
<line class="cm" x1="81.6" y1="34.6" x2="81.6" y2="38.6"/>
<line class="cm" x1="85.1" y1="38.8" x2="85.1" y2="42.8"/>
<line class="cm" x1="89.5" y1="40.9" x2="89.5" y2="44.9"/>
<line class="cm" x1="94.0" y1="43.2" x2="94.0" y2="47.2"/>
<line class="cm" x1="96.3" y1="43.6" x2="96.3" y2="47.6"/>
<line class="cm" x1="98.3" y1="44.2" x2="98.3" y2="48.2"/>
<line class="cm" x1="103.7" y1="45.7" x2="103.7" y2="49.7"/>
<line class="cm" x1="106.7" y1="46.4" x2="106.7" y2="50.4"/>
<line class="cm" x1="109.7" y1="47.2" x2="109.7" y2="51.2"/>
<line class="cm" x1="115.6" y1="49.0" x2="115.6" y2="53.0"/>
<line class="cm" x1="119.5" y1="49.5" x2="119.5" y2="53.5"/>
<line class="cm" x1="124.9" y1="50.9" x2="124.9" y2="54.9"/>
<line class="cm" x1="128.8" y1="54.2" x2="128.8" y2="58.2"/>
<line class="cm" x1="133.3" y1="57.4" x2="133.3" y2="61.4"/>
<line class="cm" x1="135.9" y1="59.0" x2="135.9" y2="63.0"/>
<line class="cm" x1="140.5" y1="60.7" x2="140.5" y2="64.7"/>
<line class="cm" x1="146.0" y1="64.7" x2="146.0" y2="68.7"/>
<line class="cm" x1="150.0" y1="66.2" x2="150.0" y2="70.2"/>
<line class="cm" x1="155.0" y1="67.1" x2="155.0" y2="71.1"/>
<line class="cm" x1="159.7" y1="67.9" x2="159.7" y2="71.9"/>
<line class="cm" x1="162.0" y1="68.7" x2="162.0" y2="72.7"/>
<line class="cm" x1="167.0" y1="70.5" x2="167.0" y2="74.5"/>
<line class="cm" x1="171.3" y1="71.6" x2="171.3" y2="75.6"/>
<line class="cm" x1="174.6" y1="72.4" x2="174.6" y2="76.4"/>
<line class="cm" x1="176.7" y1="72.9" x2="176.7" y2="76.9"/>
<line class="cm" x1="182.1" y1="74.8" x2="182.1" y2="78.8"/>
<line class="cm" x1="186.0" y1="76.4" x2="186.0" y2="80.4"/>
<line class="cm" x1="190.9" y1="78.8" x2="190.9" y2="82.8"/>
<line class="cm" x1="196.4" y1="83.1" x2="196.4" y2="87.1"/>
<line class="cm" x1="201.3" y1="85.6" x2="201.3" y2="89.6"/>
<line class="cm" x1="207.0" y1="86.7" x2="207.0" y2="90.7"/>
<line class="cm" x1="210.5" y1="87.2" x2="210.5" y2="91.2"/>
<line class="cm" x1="215.7" y1="87.2" x2="215.7" y2="91.2"/>
<line class="cm" x1="219.5" y1="87.2" x2="219.5" y2="91.2"/>
<line class="cm" x1="225.3" y1="94.2" x2="225.3" y2="98.2"/>
<line class="cm" x1="230.8" y1="94.3" x2="230.8" y2="98.3"/>
<line class="cm" x1="233.2" y1="94.4" x2="233.2" y2="98.4"/>
<line class="cm" x1="235.7" y1="94.5" x2="235.7" y2="98.5"/>
<line class="cm" x1="238.6" y1="94.5" x2="238.6" y2="98.5"/>
<line class="cm" x1="315.5" y1="29.2" x2="315.5" y2="33.2"/>
<line class="cm" x1="319.2" y1="33.5" x2="319.2" y2="37.5"/>
<line class="cm" x1="323.8" y1="36.9" x2="323.8" y2="40.9"/>
<line class="cm" x1="327.0" y1="40.2" x2="327.0" y2="44.2"/>
<line class="cm" x1="331.0" y1="42.1" x2="331.0" y2="46.1"/>
<line class="cm" x1="334.5" y1="44.2" x2="334.5" y2="48.2"/>
<line class="cm" x1="337.9" y1="46.2" x2="337.9" y2="50.2"/>
<line class="cm" x1="342.3" y1="48.8" x2="342.3" y2="52.8"/>
<line class="cm" x1="346.6" y1="50.6" x2="346.6" y2="54.6"/>
<line class="cm" x1="352.2" y1="52.5" x2="352.2" y2="56.5"/>
<line class="cm" x1="357.0" y1="53.1" x2="357.0" y2="57.1"/>
<line class="cm" x1="362.7" y1="53.3" x2="362.7" y2="57.3"/>
<line class="cm" x1="368.1" y1="56.1" x2="368.1" y2="60.1"/>
<line class="cm" x1="374.1" y1="60.0" x2="374.1" y2="64.0"/>
<line class="cm" x1="378.7" y1="62.3" x2="378.7" y2="66.3"/>
<line class="cm" x1="381.4" y1="64.2" x2="381.4" y2="68.2"/>
<line class="cm" x1="386.8" y1="68.3" x2="386.8" y2="72.3"/>
<line class="cm" x1="392.7" y1="70.5" x2="392.7" y2="74.5"/>
<line class="cm" x1="398.3" y1="71.3" x2="398.3" y2="75.3"/>
<line class="cm" x1="402.6" y1="71.9" x2="402.6" y2="75.9"/>
<line class="cm" x1="407.4" y1="72.3" x2="407.4" y2="76.3"/>
<line class="cm" x1="410.3" y1="72.3" x2="410.3" y2="76.3"/>
<line class="cm" x1="415.6" y1="72.3" x2="415.6" y2="76.3"/>
<line class="cm" x1="419.9" y1="72.3" x2="419.9" y2="76.3"/>
<line class="cm" x1="423.1" y1="74.2" x2="423.1" y2="78.2"/>
<line class="cm" x1="425.3" y1="75.8" x2="425.3" y2="79.8"/>
<line class="cm" x1="430.7" y1="78.6" x2="430.7" y2="82.6"/>
<line class="cm" x1="436.7" y1="83.6" x2="436.7" y2="87.6"/>
<line class="cm" x1="439.0" y1="85.8" x2="439.0" y2="89.8"/>
<line class="cm" x1="444.2" y1="86.8" x2="444.2" y2="90.8"/>
<line class="cm" x1="447.9" y1="87.6" x2="447.9" y2="91.6"/>
<line class="cm" x1="450.5" y1="88.0" x2="450.5" y2="92.0"/>
<line class="cm" x1="453.7" y1="88.3" x2="453.7" y2="92.3"/>
<line class="cm" x1="458.7" y1="88.9" x2="458.7" y2="92.9"/>
<line class="cm" x1="464.2" y1="105.0" x2="464.2" y2="109.0"/>
<line class="cm" x1="466.4" y1="108.4" x2="466.4" y2="112.4"/>
<line class="cm" x1="470.9" y1="108.4" x2="470.9" y2="112.4"/>
<line class="cm" x1="473.0" y1="108.4" x2="473.0" y2="112.4"/>
<line class="cm" x1="77.9" y1="263.1" x2="77.9" y2="267.1"/>
<line class="cm" x1="81.2" y1="264.2" x2="81.2" y2="268.2"/>
<line class="cm" x1="86.7" y1="268.3" x2="86.7" y2="272.3"/>
<line class="cm" x1="92.7" y1="272.6" x2="92.7" y2="276.6"/>
<line class="cm" x1="96.7" y1="274.1" x2="96.7" y2="278.1"/>
<line class="cm" x1="102.7" y1="275.9" x2="102.7" y2="279.9"/>
<line class="cm" x1="105.9" y1="276.9" x2="105.9" y2="280.9"/>
<line class="cm" x1="108.2" y1="277.6" x2="108.2" y2="281.6"/>
<line class="cm" x1="112.6" y1="278.4" x2="112.6" y2="282.4"/>
<line class="cm" x1="114.8" y1="278.6" x2="114.8" y2="282.6"/>
<line class="cm" x1="117.5" y1="278.9" x2="117.5" y2="282.9"/>
<line class="cm" x1="121.2" y1="279.3" x2="121.2" y2="283.3"/>
<line class="cm" x1="125.6" y1="281.8" x2="125.6" y2="285.8"/>
<line class="cm" x1="128.2" y1="283.5" x2="128.2" y2="287.5"/>
<line class="cm" x1="130.4" y1="285.1" x2="130.4" y2="289.1"/>
<line class="cm" x1="135.9" y1="289.2" x2="135.9" y2="293.2"/>
<line class="cm" x1="139.1" y1="291.1" x2="139.1" y2="295.1"/>
<line class="cm" x1="145.0" y1="294.1" x2="145.0" y2="298.1"/>
<line class="cm" x1="150.6" y1="296.6" x2="150.6" y2="300.6"/>
<line class="cm" x1="154.1" y1="297.1" x2="154.1" y2="301.1"/>
<line class="cm" x1="157.9" y1="297.8" x2="157.9" y2="301.8"/>
<line class="cm" x1="162.0" y1="298.4" x2="162.0" y2="302.4"/>
<line class="cm" x1="166.6" y1="300.9" x2="166.6" y2="304.9"/>
<line class="cm" x1="171.0" y1="302.0" x2="171.0" y2="306.0"/>
<line class="cm" x1="175.2" y1="303.0" x2="175.2" y2="307.0"/>
<line class="cm" x1="179.7" y1="304.4" x2="179.7" y2="308.4"/>
<line class="cm" x1="185.4" y1="306.2" x2="185.4" y2="310.2"/>
<line class="cm" x1="189.5" y1="307.6" x2="189.5" y2="311.6"/>
<line class="cm" x1="193.2" y1="310.8" x2="193.2" y2="314.8"/>
<line class="cm" x1="198.1" y1="314.1" x2="198.1" y2="318.1"/>
<line class="cm" x1="201.0" y1="314.4" x2="201.0" y2="318.4"/>
<line class="cm" x1="204.2" y1="314.7" x2="204.2" y2="318.7"/>
<line class="cm" x1="210.1" y1="315.4" x2="210.1" y2="319.4"/>
<line class="cm" x1="214.2" y1="316.2" x2="214.2" y2="320.2"/>
<line class="cm" x1="218.4" y1="319.3" x2="218.4" y2="323.3"/>
<line class="cm" x1="220.5" y1="321.6" x2="220.5" y2="325.6"/>
<line class="cm" x1="224.1" y1="324.7" x2="224.1" y2="328.7"/>
<line class="cm" x1="228.4" y1="324.7" x2="228.4" y2="328.7"/>
<line class="cm" x1="230.5" y1="324.7" x2="230.5" y2="328.7"/>
<line class="cm" x1="235.0" y1="324.7" x2="235.0" y2="328.7"/>
<line class="cm" x1="317.4" y1="261.6" x2="317.4" y2="265.6"/>
<line class="cm" x1="319.6" y1="263.6" x2="319.6" y2="267.6"/>
<line class="cm" x1="324.1" y1="267.1" x2="324.1" y2="271.1"/>
<line class="cm" x1="328.0" y1="268.5" x2="328.0" y2="272.5"/>
<line class="cm" x1="332.7" y1="270.9" x2="332.7" y2="274.9"/>
<line class="cm" x1="336.1" y1="272.5" x2="336.1" y2="276.5"/>
<line class="cm" x1="341.0" y1="274.2" x2="341.0" y2="278.2"/>
<line class="cm" x1="345.9" y1="276.1" x2="345.9" y2="280.1"/>
<line class="cm" x1="348.0" y1="276.7" x2="348.0" y2="280.7"/>
<line class="cm" x1="350.3" y1="277.3" x2="350.3" y2="281.3"/>
<line class="cm" x1="355.0" y1="278.4" x2="355.0" y2="282.4"/>
<line class="cm" x1="360.8" y1="279.3" x2="360.8" y2="283.3"/>
<line class="cm" x1="363.8" y1="280.1" x2="363.8" y2="284.1"/>
<line class="cm" x1="367.6" y1="282.3" x2="367.6" y2="286.3"/>
<line class="cm" x1="372.0" y1="284.6" x2="372.0" y2="288.6"/>
<line class="cm" x1="375.3" y1="286.2" x2="375.3" y2="290.2"/>
<line class="cm" x1="378.7" y1="286.7" x2="378.7" y2="290.7"/>
<line class="cm" x1="382.0" y1="288.3" x2="382.0" y2="292.3"/>
<line class="cm" x1="385.5" y1="291.4" x2="385.5" y2="295.4"/>
<line class="cm" x1="389.9" y1="294.5" x2="389.9" y2="298.5"/>
<line class="cm" x1="393.1" y1="294.5" x2="393.1" y2="298.5"/>
<line class="cm" x1="396.6" y1="294.5" x2="396.6" y2="298.5"/>
<line class="cm" x1="401.7" y1="294.5" x2="401.7" y2="298.5"/>
<line class="cm" x1="403.8" y1="294.9" x2="403.8" y2="298.9"/>
<line class="cm" x1="408.0" y1="296.7" x2="408.0" y2="300.7"/>
<line class="cm" x1="413.0" y1="298.2" x2="413.0" y2="302.2"/>
<line class="cm" x1="416.2" y1="298.5" x2="416.2" y2="302.5"/>
<line class="cm" x1="419.1" y1="298.8" x2="419.1" y2="302.8"/>
<line class="cm" x1="424.3" y1="299.4" x2="424.3" y2="303.4"/>
<line class="cm" x1="427.3" y1="300.5" x2="427.3" y2="304.5"/>
<line class="cm" x1="430.0" y1="301.6" x2="430.0" y2="305.6"/>
<line class="cm" x1="433.8" y1="303.1" x2="433.8" y2="307.1"/>
<line class="cm" x1="438.6" y1="308.3" x2="438.6" y2="312.3"/>
<line class="cm" x1="441.0" y1="310.4" x2="441.0" y2="314.4"/>
<line class="cm" x1="444.3" y1="310.8" x2="444.3" y2="314.8"/>
<line class="cm" x1="447.6" y1="311.1" x2="447.6" y2="315.1"/>
<line class="cm" x1="452.9" y1="311.6" x2="452.9" y2="315.6"/>
<line class="cm" x1="456.7" y1="311.9" x2="456.7" y2="315.9"/>
<line class="cm" x1="462.1" y1="316.0" x2="462.1" y2="320.0"/>
<line class="cm" x1="464.8" y1="323.7" x2="464.8" y2="327.7"/>
<line class="cm" x1="468.1" y1="326.6" x2="468.1" y2="330.6"/>
<line class="cm" x1="472.7" y1="326.6" x2="472.7" y2="330.6"/>
<line class="cm" x1="478.3" y1="326.6" x2="478.3" y2="330.6"/>
<line class="cm" x1="115.0" y1="108.5" x2="115.0" y2="112.1"/>
<line class="cm" x1="124.0" y1="108.5" x2="124.0" y2="112.1"/>
<line class="cm" x1="190.0" y1="144.4" x2="190.0" y2="148.0"/>
<line class="cm" x1="196.0" y1="144.4" x2="196.0" y2="148.0"/>
<line class="cm" x1="232.0" y1="150.5" x2="232.0" y2="154.1"/>
<line class="cm" x1="236.0" y1="150.5" x2="236.0" y2="154.1"/>
<line class="cm" x1="239.0" y1="150.5" x2="239.0" y2="154.1"/>
<line class="cmt" x1="102.0" y1="69.2" x2="102.0" y2="72.8"/>
<line class="cmt" x1="127.0" y1="78.4" x2="127.0" y2="82.0"/>
<line class="cmt" x1="158.0" y1="84.5" x2="158.0" y2="88.1"/>
<line class="cmt" x1="161.0" y1="84.5" x2="161.0" y2="88.1"/>
<line class="cmt" x1="196.0" y1="94.0" x2="196.0" y2="97.6"/>
<line class="cmt" x1="206.0" y1="94.0" x2="206.0" y2="97.6"/>
<line class="cmt" x1="226.0" y1="102.4" x2="226.0" y2="106.0"/>
<line class="cmt" x1="229.0" y1="102.4" x2="229.0" y2="106.0"/>
<line class="cmt" x1="232.0" y1="102.4" x2="232.0" y2="106.0"/>
<line class="cm" x1="340.0" y1="64.5" x2="340.0" y2="68.1"/>
<line class="cm" x1="396.0" y1="83.4" x2="396.0" y2="87.0"/>
<line class="cm" x1="402.0" y1="83.8" x2="402.0" y2="87.4"/>
<line class="cm" x1="441.0" y1="104.8" x2="441.0" y2="108.4"/>
<line class="cm" x1="449.0" y1="104.8" x2="449.0" y2="108.4"/>
<line class="cm" x1="460.0" y1="119.5" x2="460.0" y2="123.1"/>
<line class="cm" x1="470.0" y1="119.5" x2="470.0" y2="123.1"/>
<line class="cm" x1="476.0" y1="119.5" x2="476.0" y2="123.1"/>
<line class="cmt" x1="421.4" y1="138.4" x2="421.4" y2="142.0"/>
<line class="cmt" x1="434.0" y1="138.4" x2="434.0" y2="142.0"/>
<line class="cm" x1="130.0" y1="371.6" x2="130.0" y2="375.2"/>
<line class="cm" x1="205.8" y1="390.0" x2="205.8" y2="393.6"/>
<line class="cm" x1="233.5" y1="390.0" x2="233.5" y2="393.6"/>
<line class="cmt" x1="100.0" y1="296.7" x2="100.0" y2="300.3"/>
<line class="cmt" x1="140.0" y1="312.4" x2="140.0" y2="316.0"/>
<line class="cmt" x1="200.0" y1="324.9" x2="200.0" y2="328.5"/>
<line class="cmt" x1="222.0" y1="330.3" x2="222.0" y2="333.9"/>
<line class="cmt" x1="226.0" y1="330.4" x2="226.0" y2="334.0"/>
<line class="cm" x1="346.0" y1="322.5" x2="346.0" y2="326.1"/>
<line class="cm" x1="365.0" y1="336.1" x2="365.0" y2="339.7"/>
<line class="cm" x1="395.0" y1="351.7" x2="395.0" y2="355.3"/>
<line class="cm" x1="423.0" y1="362.4" x2="423.0" y2="366.0"/>
<line class="cm" x1="440.0" y1="362.4" x2="440.0" y2="366.0"/>
<line class="cm" x1="444.0" y1="362.4" x2="444.0" y2="366.0"/>
<line class="cm" x1="460.0" y1="362.4" x2="460.0" y2="366.0"/>
<line class="cm" x1="466.0" y1="362.4" x2="466.0" y2="366.0"/>
<line class="cmt" x1="336.0" y1="344.5" x2="336.0" y2="348.1"/>
<line class="cmt" x1="346.0" y1="344.5" x2="346.0" y2="348.1"/>
<line class="cmt" x1="390.0" y1="344.5" x2="390.0" y2="348.1"/>
<line class="cmt" x1="443.0" y1="344.5" x2="443.0" y2="348.1"/>
<text transform="translate(85.30,144.04) scale(0.863,1)" text-anchor="start" font-size="8.2" font-weight="normal" fill="#1a1a1a" letter-spacing="-0.2">3 Month</text>
<text transform="translate(85.30,153.64) scale(0.863,1)" text-anchor="start" font-size="8.2" font-weight="normal" fill="#1a1a1a" letter-spacing="-0.2">Ph+</text>
<text transform="translate(108.00,153.64) scale(0.863,1)" text-anchor="start" font-size="8.2" font-weight="normal" fill="#1a1a1a" letter-spacing="-0.2">Total</text>
<text transform="translate(126.40,153.64) scale(0.863,1)" text-anchor="start" font-size="8.2" font-weight="normal" fill="#1a1a1a" letter-spacing="-0.2">Fail</text>
<text transform="translate(139.40,153.64) scale(0.863,1)" text-anchor="start" font-size="8.2" font-weight="normal" fill="#1a1a1a" letter-spacing="-0.2">3-Yr</text>
<line class="ls" x1="72.6" y1="161.6" x2="83.7" y2="161.6"/>
<text transform="translate(87.30,164.54) scale(0.863,1)" text-anchor="start" font-size="8.2" font-weight="normal" fill="#1a1a1a" letter-spacing="-0.2">0%</text>
<text transform="translate(119.67,164.54) scale(0.863,1)" text-anchor="end" font-size="8.2" font-weight="normal" fill="#1a1a1a" letter-spacing="-0.2">300</text>
<text transform="translate(135.07,164.54) scale(0.863,1)" text-anchor="end" font-size="8.2" font-weight="normal" fill="#1a1a1a" letter-spacing="-0.2">75</text>
<text transform="translate(154.87,164.54) scale(0.863,1)" text-anchor="end" font-size="8.2" font-weight="normal" fill="#1a1a1a" letter-spacing="-0.2">87%</text>
<line class="lo2" x1="72.6" y1="171.4" x2="83.7" y2="171.4"/>
<text transform="translate(87.30,174.34) scale(0.863,1)" text-anchor="start" font-size="8.2" font-weight="normal" fill="#1a1a1a" letter-spacing="-0.2">1-35%</text>
<text transform="translate(119.67,174.34) scale(0.863,1)" text-anchor="end" font-size="8.2" font-weight="normal" fill="#1a1a1a" letter-spacing="-0.2">104</text>
<text transform="translate(135.07,174.34) scale(0.863,1)" text-anchor="end" font-size="8.2" font-weight="normal" fill="#1a1a1a" letter-spacing="-0.2">42</text>
<text transform="translate(154.87,174.34) scale(0.863,1)" text-anchor="end" font-size="8.2" font-weight="normal" fill="#1a1a1a" letter-spacing="-0.2">70%</text>
<line class="ld" x1="72.6" y1="181.2" x2="83.7" y2="181.2"/>
<text transform="translate(87.30,184.14) scale(0.863,1)" text-anchor="start" font-size="8.2" font-weight="normal" fill="#1a1a1a" letter-spacing="-0.2">&gt;35%</text>
<text transform="translate(119.67,184.14) scale(0.863,1)" text-anchor="end" font-size="8.2" font-weight="normal" fill="#1a1a1a" letter-spacing="-0.2">44</text>
<text transform="translate(135.07,184.14) scale(0.863,1)" text-anchor="end" font-size="8.2" font-weight="normal" fill="#1a1a1a" letter-spacing="-0.2">31</text>
<text transform="translate(154.87,184.14) scale(0.863,1)" text-anchor="end" font-size="8.2" font-weight="normal" fill="#1a1a1a" letter-spacing="-0.2">51%</text>
<text transform="translate(99.40,194.04) scale(0.863,1)" text-anchor="start" font-size="8.2" font-weight="normal" fill="#1a1a1a" letter-spacing="-0.2">p &lt; 0.001</text>
<text transform="translate(312.20,143.14) scale(0.863,1)" text-anchor="start" font-size="8.2" font-weight="normal" fill="#1a1a1a" letter-spacing="-0.2">3 Month</text>
<text transform="translate(312.20,153.24) scale(0.889,1)" text-anchor="start" font-size="8.2" font-weight="normal" fill="#1a1a1a" letter-spacing="-0.2">BCR-ABL/ABL</text>
<text transform="translate(359.60,153.24) scale(0.863,1)" text-anchor="start" font-size="8.2" font-weight="normal" fill="#1a1a1a" letter-spacing="-0.2">Total</text>
<text transform="translate(378.10,153.24) scale(0.863,1)" text-anchor="start" font-size="8.2" font-weight="normal" fill="#1a1a1a" letter-spacing="-0.2">Fail</text>
<text transform="translate(392.90,153.24) scale(0.863,1)" text-anchor="start" font-size="8.2" font-weight="normal" fill="#1a1a1a" letter-spacing="-0.2">3-Yr</text>
<line class="ls" x1="312.5" y1="159.4" x2="324.0" y2="159.4"/>
<text transform="translate(325.40,162.56) scale(0.900,1)" text-anchor="start" font-size="5.2" font-weight="normal" fill="#1a1a1a">&lt;</text>
<line class="ul" x1="325.6" y1="162.7" x2="328.3" y2="162.7"/>
<text transform="translate(328.60,162.34) scale(0.863,1)" text-anchor="start" font-size="8.2" font-weight="normal" fill="#1a1a1a" letter-spacing="-0.2">1%</text>
<text transform="translate(373.87,162.34) scale(0.863,1)" text-anchor="end" font-size="8.2" font-weight="normal" fill="#1a1a1a" letter-spacing="-0.2">288</text>
<text transform="translate(387.87,162.34) scale(0.863,1)" text-anchor="end" font-size="8.2" font-weight="normal" fill="#1a1a1a" letter-spacing="-0.2">72</text>
<text transform="translate(407.27,162.34) scale(0.863,1)" text-anchor="end" font-size="8.2" font-weight="normal" fill="#1a1a1a" letter-spacing="-0.2">85%</text>
<line class="ld" x1="312.5" y1="169.2" x2="324.0" y2="169.2"/>
<text transform="translate(326.60,172.14) scale(0.863,1)" text-anchor="start" font-size="8.2" font-weight="normal" fill="#1a1a1a" letter-spacing="-0.2">&gt;1-10%</text>
<text transform="translate(373.87,172.14) scale(0.863,1)" text-anchor="end" font-size="8.2" font-weight="normal" fill="#1a1a1a" letter-spacing="-0.2">62</text>
<text transform="translate(387.87,172.14) scale(0.863,1)" text-anchor="end" font-size="8.2" font-weight="normal" fill="#1a1a1a" letter-spacing="-0.2">22</text>
<text transform="translate(407.27,172.14) scale(0.863,1)" text-anchor="end" font-size="8.2" font-weight="normal" fill="#1a1a1a" letter-spacing="-0.2">73%</text>
<line class="lo" x1="312.5" y1="179.1" x2="324.0" y2="179.1"/>
<text transform="translate(326.60,182.04) scale(0.863,1)" text-anchor="start" font-size="8.2" font-weight="normal" fill="#1a1a1a" letter-spacing="-0.2">&gt;10%</text>
<text transform="translate(373.87,182.04) scale(0.863,1)" text-anchor="end" font-size="8.2" font-weight="normal" fill="#1a1a1a" letter-spacing="-0.2">12</text>
<text transform="translate(387.87,182.04) scale(0.863,1)" text-anchor="end" font-size="8.2" font-weight="normal" fill="#1a1a1a" letter-spacing="-0.2">6</text>
<text transform="translate(407.27,182.04) scale(0.863,1)" text-anchor="end" font-size="8.2" font-weight="normal" fill="#1a1a1a" letter-spacing="-0.2">61%</text>
<text transform="translate(345.40,191.64) scale(0.863,1)" text-anchor="start" font-size="8.2" font-weight="normal" fill="#1a1a1a" letter-spacing="-0.2">p = 0.016</text>
<text transform="translate(204.10,259.64) scale(0.863,1)" text-anchor="start" font-size="8.2" font-weight="normal" fill="#1a1a1a" letter-spacing="-0.2">6 Month</text>
<text transform="translate(204.10,269.24) scale(0.863,1)" text-anchor="start" font-size="8.2" font-weight="normal" fill="#1a1a1a" letter-spacing="-0.2">Ph+</text>
<text transform="translate(226.60,269.24) scale(0.863,1)" text-anchor="start" font-size="8.2" font-weight="normal" fill="#1a1a1a" letter-spacing="-0.2">Total</text>
<text transform="translate(244.30,269.24) scale(0.863,1)" text-anchor="start" font-size="8.2" font-weight="normal" fill="#1a1a1a" letter-spacing="-0.2">Fail</text>
<text transform="translate(256.80,269.24) scale(0.863,1)" text-anchor="start" font-size="8.2" font-weight="normal" fill="#1a1a1a" letter-spacing="-0.2">3-Yr</text>
<line class="ls" x1="191.9" y1="275.6" x2="202.6" y2="275.6"/>
<text transform="translate(205.20,278.54) scale(0.863,1)" text-anchor="start" font-size="8.2" font-weight="normal" fill="#1a1a1a" letter-spacing="-0.2">0%</text>
<text transform="translate(237.67,278.54) scale(0.863,1)" text-anchor="end" font-size="8.2" font-weight="normal" fill="#1a1a1a" letter-spacing="-0.2">347</text>
<text transform="translate(250.57,278.54) scale(0.863,1)" text-anchor="end" font-size="8.2" font-weight="normal" fill="#1a1a1a" letter-spacing="-0.2">87</text>
<text transform="translate(270.47,278.54) scale(0.863,1)" text-anchor="end" font-size="8.2" font-weight="normal" fill="#1a1a1a" letter-spacing="-0.2">89%</text>
<line class="lo2" x1="191.9" y1="285.0" x2="202.6" y2="285.0"/>
<text transform="translate(205.20,287.94) scale(0.863,1)" text-anchor="start" font-size="8.2" font-weight="normal" fill="#1a1a1a" letter-spacing="-0.2">1-35%</text>
<text transform="translate(237.67,287.94) scale(0.863,1)" text-anchor="end" font-size="8.2" font-weight="normal" fill="#1a1a1a" letter-spacing="-0.2">53</text>
<text transform="translate(250.57,287.94) scale(0.863,1)" text-anchor="end" font-size="8.2" font-weight="normal" fill="#1a1a1a" letter-spacing="-0.2">27</text>
<text transform="translate(270.47,287.94) scale(0.863,1)" text-anchor="end" font-size="8.2" font-weight="normal" fill="#1a1a1a" letter-spacing="-0.2">67%</text>
<line class="ld" x1="191.9" y1="294.3" x2="202.6" y2="294.3"/>
<text transform="translate(205.20,297.24) scale(0.863,1)" text-anchor="start" font-size="8.2" font-weight="normal" fill="#1a1a1a" letter-spacing="-0.2">&gt;35%</text>
<text transform="translate(237.67,297.24) scale(0.863,1)" text-anchor="end" font-size="8.2" font-weight="normal" fill="#1a1a1a" letter-spacing="-0.2">24</text>
<text transform="translate(250.57,297.24) scale(0.863,1)" text-anchor="end" font-size="8.2" font-weight="normal" fill="#1a1a1a" letter-spacing="-0.2">18</text>
<text transform="translate(270.47,297.24) scale(0.863,1)" text-anchor="end" font-size="8.2" font-weight="normal" fill="#1a1a1a" letter-spacing="-0.2">29%</text>
<text transform="translate(216.90,306.14) scale(0.863,1)" text-anchor="start" font-size="8.2" font-weight="normal" fill="#1a1a1a" letter-spacing="-0.2">p &lt; 0.001</text>
<text transform="translate(310.40,371.34) scale(0.863,1)" text-anchor="start" font-size="8.2" font-weight="normal" fill="#1a1a1a" letter-spacing="-0.2">6 Month</text>
<text transform="translate(310.40,380.24) scale(0.889,1)" text-anchor="start" font-size="8.2" font-weight="normal" fill="#1a1a1a" letter-spacing="-0.2">BCR-ABL/ABL</text>
<text transform="translate(358.80,380.24) scale(0.863,1)" text-anchor="start" font-size="8.2" font-weight="normal" fill="#1a1a1a" letter-spacing="-0.2">Total</text>
<text transform="translate(377.80,380.24) scale(0.863,1)" text-anchor="start" font-size="8.2" font-weight="normal" fill="#1a1a1a" letter-spacing="-0.2">Fail</text>
<text transform="translate(393.40,380.24) scale(0.863,1)" text-anchor="start" font-size="8.2" font-weight="normal" fill="#1a1a1a" letter-spacing="-0.2">3-Yr</text>
<line class="ls" x1="311.1" y1="386.6" x2="321.1" y2="386.6"/>
<text transform="translate(324.00,389.76) scale(0.900,1)" text-anchor="start" font-size="5.2" font-weight="normal" fill="#1a1a1a">&lt;</text>
<line class="ul" x1="324.2" y1="389.9" x2="326.9" y2="389.9"/>
<text transform="translate(327.20,389.54) scale(0.863,1)" text-anchor="start" font-size="8.2" font-weight="normal" fill="#1a1a1a" letter-spacing="-0.2">1%</text>
<text transform="translate(373.47,389.54) scale(0.863,1)" text-anchor="end" font-size="8.2" font-weight="normal" fill="#1a1a1a" letter-spacing="-0.2">318</text>
<text transform="translate(387.87,389.54) scale(0.863,1)" text-anchor="end" font-size="8.2" font-weight="normal" fill="#1a1a1a" letter-spacing="-0.2">69</text>
<text transform="translate(409.47,389.54) scale(0.863,1)" text-anchor="end" font-size="8.2" font-weight="normal" fill="#1a1a1a" letter-spacing="-0.2">89%</text>
<line class="ld" x1="311.1" y1="396.0" x2="321.1" y2="396.0"/>
<text transform="translate(325.20,398.94) scale(0.863,1)" text-anchor="start" font-size="8.2" font-weight="normal" fill="#1a1a1a" letter-spacing="-0.2">&gt;1-10%</text>
<text transform="translate(373.47,398.94) scale(0.863,1)" text-anchor="end" font-size="8.2" font-weight="normal" fill="#1a1a1a" letter-spacing="-0.2">29</text>
<text transform="translate(387.87,398.94) scale(0.863,1)" text-anchor="end" font-size="8.2" font-weight="normal" fill="#1a1a1a" letter-spacing="-0.2">15</text>
<text transform="translate(409.47,398.94) scale(0.863,1)" text-anchor="end" font-size="8.2" font-weight="normal" fill="#1a1a1a" letter-spacing="-0.2">56%</text>
<line class="lo" x1="311.1" y1="405.4" x2="321.1" y2="405.4"/>
<text transform="translate(325.20,408.34) scale(0.863,1)" text-anchor="start" font-size="8.2" font-weight="normal" fill="#1a1a1a" letter-spacing="-0.2">&gt;10%</text>
<text transform="translate(373.47,408.34) scale(0.863,1)" text-anchor="end" font-size="8.2" font-weight="normal" fill="#1a1a1a" letter-spacing="-0.2">8</text>
<text transform="translate(387.87,408.34) scale(0.863,1)" text-anchor="end" font-size="8.2" font-weight="normal" fill="#1a1a1a" letter-spacing="-0.2">4</text>
<text transform="translate(409.47,408.34) scale(0.863,1)" text-anchor="end" font-size="8.2" font-weight="normal" fill="#1a1a1a" letter-spacing="-0.2">49%</text>
<text transform="translate(345.50,417.14) scale(0.863,1)" text-anchor="start" font-size="8.2" font-weight="normal" fill="#1a1a1a" letter-spacing="-0.2">p &lt; 0.001</text>
</svg></body></html>
